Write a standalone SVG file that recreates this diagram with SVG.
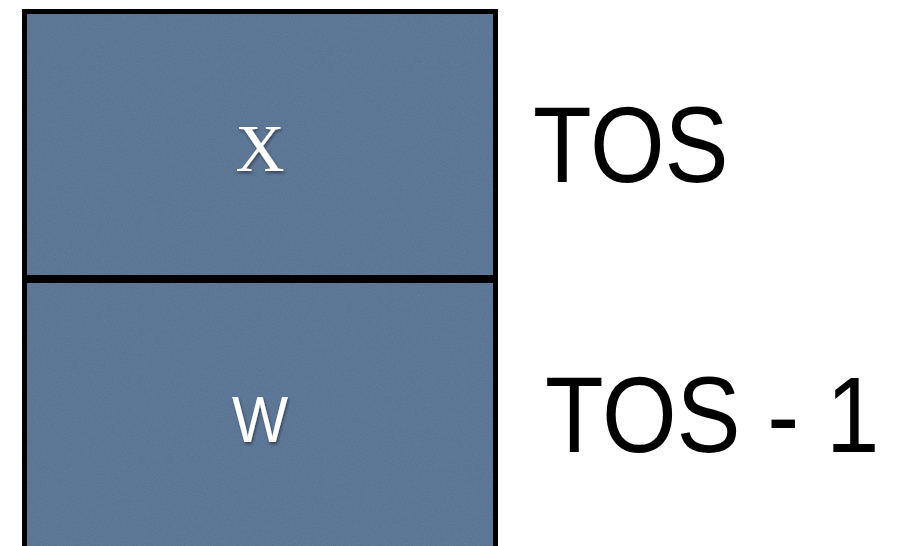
<svg xmlns="http://www.w3.org/2000/svg" width="903" height="546" viewBox="0 0 903 546">
  <defs>
    <filter id="noise" x="0" y="0" width="100%" height="100%">
      <feTurbulence type="fractalNoise" baseFrequency="0.9" numOctaves="2" seed="3" result="n"/>
      <feColorMatrix type="matrix" values="0 0 0 0 1  0 0 0 0 1  0 0 0 0 1  0 0 0 0.9 -0.35" result="w"/>
      <feComposite in="w" in2="SourceGraphic" operator="in"/>
    </filter>
    <filter id="shadow" x="-20%" y="-20%" width="140%" height="150%">
      <feDropShadow dx="1" dy="2" stdDeviation="1.5" flood-color="#000" flood-opacity="0.45"/>
    </filter>
  </defs>
  <style>
    .cell { fill: #5a7494; stroke: #000; stroke-width: 5; }
    .tex { fill: #5a7494; opacity: 0.15; }
    .val { fill: #fff; text-anchor: middle; filter: url(#shadow); }
    .lbl { fill: #000; font-family: "Liberation Sans", Arial, sans-serif; font-size: 96px; }
  </style>
  <rect width="903" height="546" fill="#fff"/>
  <g id="cell-tos">
    <rect class="cell" x="24.5" y="11.5" width="471" height="266"/>
    <rect class="tex" x="27" y="14" width="466" height="261" filter="url(#noise)"/>
    <text class="val" x="260" y="171" font-family="Liberation Serif, serif" font-size="68">X</text>
  </g>
  <g id="cell-tos-1">
    <rect class="cell" x="24.5" y="280.5" width="471" height="290"/>
    <rect class="tex" x="27" y="283" width="466" height="263" filter="url(#noise)"/>
    <text class="val" x="260" y="442" font-family="Liberation Sans, sans-serif" font-size="65" textLength="56" lengthAdjust="spacingAndGlyphs">W</text>
  </g>
  <g id="labels">
    <text class="lbl" transform="translate(533,182) scale(1,1.13)" x="0" y="0">TOS</text>
    <text class="lbl" transform="translate(545,452) scale(1,1.13)" x="0" y="0">TOS - 1</text>
  </g>
  <g id="connectors"/>
</svg>
